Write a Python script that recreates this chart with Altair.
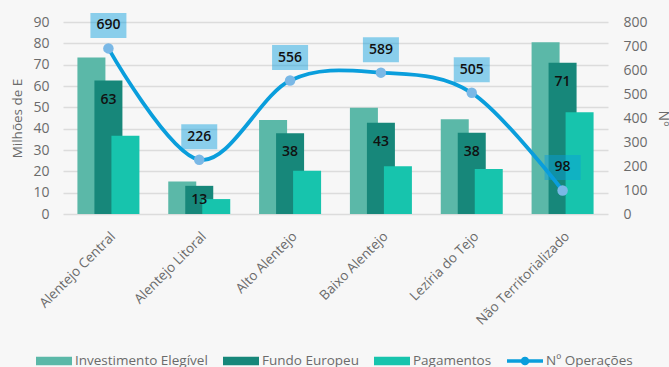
import altair as alt
import pandas as pd

regions = ["Alentejo Central", "Alentejo Litoral", "Alto Alentejo",
           "Baixo Alentejo", "Lezíria do Tejo", "Não Territorializado"]
investimento = [73.4, 15.2, 44.1, 49.8, 44.4, 80.5]
fundo = [62.6, 13.2, 37.9, 42.8, 38.1, 70.9]
pagamentos = [36.7, 7.0, 20.3, 22.4, 21.1, 47.7]
operacoes = [690, 226, 556, 589, 505, 98]

series = ["Investimento Elegível", "Fundo Europeu", "Pagamentos", "Nº Operações"]
colors = ["#5bb8a8", "#17877a", "#17c4ad", "#0a9edc"]
left_ticks = [0, 10, 20, 30, 40, 50, 60, 70, 80, 90]
right_ticks = [0, 100, 200, 300, 400, 500, 600, 700, 800]

df = pd.DataFrame({
    "Região": regions,
    "Investimento": investimento,
    "Fundo": fundo,
    "Pagamentos": pagamentos,
    "Operações": operacoes,
})

FONT = "Open Sans"
GRAY = "#6b6b6b"

xenc = alt.X("Região:N", sort=regions, title=None,
             scale=alt.Scale(paddingInner=0.2, paddingOuter=0.1),
             axis=alt.Axis(labelAngle=-45, labelFontSize=13.5, labelColor=GRAY,
                           labelFont=FONT, domain=False, ticks=False, labelPadding=15))

color_scale = alt.Scale(domain=series, range=colors)

legend_shape = ("datum.value === 'Nº Operações' ? "
                "'M-1,-0.1H1V0.1H-1Z M0.24,0A0.24,0.24 0 1 1 -0.24,0A0.24,0.24 0 1 1 0.24,0Z' : "
                "'M-1,-0.23H1V0.23H-1Z'")

legend = alt.Legend(
    title=None, orient="none", direction="horizontal", columns=4,
    legendX=-27, legendY=321, symbolSize=1296, labelFontSize=13.5,
    labelFont=FONT, labelColor=GRAY, columnPadding=15, labelOffset=3,
    gridAlign="none",
    symbolType={"expr": legend_shape},
    symbolFillColor={"expr": "scale('color', datum.value)"},
    symbolStrokeWidth=0, symbolOpacity=1,
)

color_enc = alt.Color("Série:N", scale=color_scale, legend=legend)

left_axis = alt.Axis(title="Milhões de E", values=left_ticks, labelOverlap=False,
                     labelFontSize=14, labelColor=GRAY, labelFont=FONT,
                     titleFont=FONT, titleFontSize=13.5, titleColor=GRAY,
                     titleFontWeight="normal", domain=False, ticks=False,
                     labelPadding=14, titlePadding=8,
                     gridColor="#dcdcdc", gridWidth=1.3)
left_scale = alt.Scale(domain=[0, 90])

base = alt.Chart(df)

bar_inv = base.transform_calculate(Série="'Investimento Elegível'").mark_bar(
    width=28, xOffset=-17).encode(
    x=xenc, y=alt.Y("Investimento:Q", scale=left_scale, axis=left_axis), color=color_enc)
bar_fun = base.transform_calculate(Série="'Fundo Europeu'").mark_bar(
    width=28, xOffset=0).encode(
    x=xenc, y=alt.Y("Fundo:Q", scale=left_scale, axis=left_axis), color=color_enc)
bar_pag = base.transform_calculate(Série="'Pagamentos'").mark_bar(
    width=28, xOffset=17).encode(
    x=xenc, y=alt.Y("Pagamentos:Q", scale=left_scale, axis=left_axis), color=color_enc)
txt_fun = base.transform_calculate(
    lab="max(datum.Fundo - 9, datum.Fundo / 2)",
    txt="format(datum.Fundo, '.0f')",
).mark_text(fontSize=14, fontWeight=600, font=FONT, color="#111111",
            baseline="middle").encode(
    x=xenc, y=alt.Y("lab:Q", scale=left_scale, axis=left_axis), text="txt:N")

left = alt.layer(bar_inv, bar_fun, bar_pag, txt_fun)

right_axis = alt.Axis(title="Nº", orient="right", values=right_ticks, labelOverlap=False,
                      labelFontSize=14, labelColor=GRAY, labelFont=FONT,
                      titleFont=FONT, titleFontSize=14, titleColor=GRAY,
                      titleFontWeight="normal", domain=False, ticks=False,
                      grid=False, labelPadding=15, titlePadding=8)
right_scale = alt.Scale(domain=[0, 800])
yright = alt.Y("Operações:Q", scale=right_scale, axis=right_axis)

line = base.transform_calculate(Série="'Nº Operações'").mark_line(
    interpolate="cardinal", strokeWidth=3.8).encode(x=xenc, y=yright, color=color_enc)
pts = base.mark_point(filled=True, size=110, opacity=1, color="#7ab8e6").encode(
    x=xenc, y=yright)
box = base.mark_point(filled=True, shape="M-1.44,-1H1.44V1H-1.44Z", size=625,
                      opacity=0.46, color="#089edd", yOffset=-23).encode(
    x=xenc, y=yright)
txt_op = base.mark_text(fontSize=14, fontWeight=600, font=FONT, color="#111111",
                        baseline="middle", dy=-23).encode(
    x=xenc, y=yright, text=alt.Text("Operações:Q", format=".0f"))

right = alt.layer(line, pts, box, txt_op)

chart = alt.layer(left, right).resolve_scale(y="independent").properties(
    width=545, height=192,
    autosize=alt.AutoSizeParams(type="none"),
    padding={"left": 63, "top": 22, "right": 61, "bottom": 153},
    background="#f7f7f7",
).configure_view(stroke=None)

chart.save("out.html", embed_options={"renderer": "svg", "actions": False})
